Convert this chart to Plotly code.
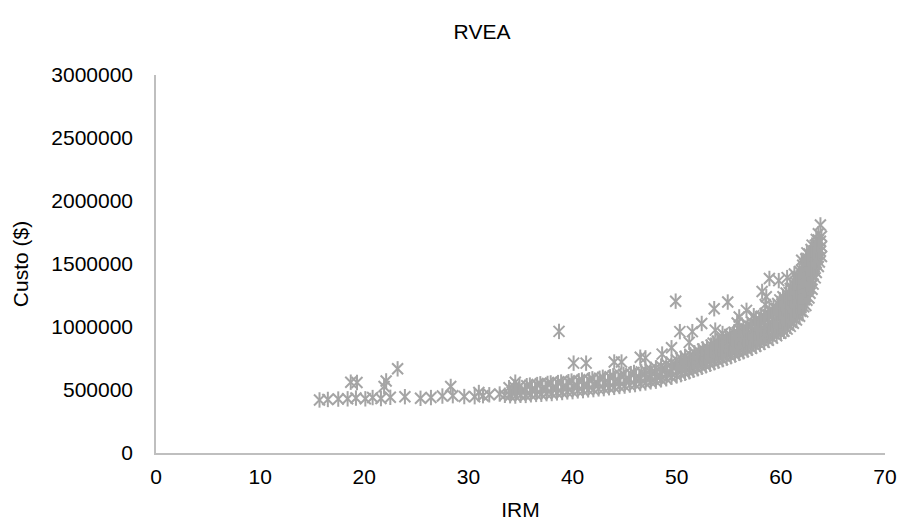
import plotly.graph_objects as go

# ---------------- data ----------------
# sparse points on the left / outliers above the main cloud
out_x = [15.7, 16.5, 17.5, 18.4, 19.2, 20.1, 20.8, 21.6, 22.5, 23.9, 25.4, 26.4, 27.5, 28.5,
         29.6, 30.6, 31.4, 32.0, 33.0, 33.5,
         18.7, 19.3, 21.9, 22.1, 23.2, 28.3, 34.5, 31.0,
         38.7, 40.1, 41.3, 44.0, 44.7, 46.5, 47.0, 48.6, 49.5, 50.3, 49.9, 51.5, 51.2, 52.4,
         53.6, 54.9, 53.7, 54.4, 56.0, 56.7, 55.8, 57.4, 58.2, 58.5, 58.6, 58.9, 59.8, 60.6,
         61.3, 62.0, 62.5, 63.0, 63.4, 63.8, 63.6]
out_y = [421000, 425000, 428000, 430000, 436000, 430000, 440000, 432000, 442000, 447000,
         434000, 440000, 452000, 455000, 448000, 447000, 455000, 462000, 468000, 458000,
         562000, 560000, 528000, 572000, 668000, 528000, 562000, 480000,
         965000, 713000, 713000, 722000, 722000, 760000, 755000, 785000, 835000, 963000,
         1205000, 963000, 878000, 1028000, 1145000, 1198000, 975000, 948000, 1080000,
         1132000, 1032000, 1090000, 1282000, 1178000, 1240000, 1385000, 1368000, 1392000,
         1420000, 1530000, 1588000, 1650000, 1695000, 1810000, 1740000]

# main cloud, IRM 34 - 49.5
band_a_x = [34.0, 34.2, 33.9, 34.5, 34.6, 34.4, 35.0, 35.1, 34.9, 35.5, 35.4, 35.6,
            36.0, 36.1, 35.9, 36.5, 36.4, 36.6, 37.0, 37.1, 36.9, 37.5, 37.4, 37.6,
            38.0, 38.1, 37.9, 38.5, 38.4, 38.6, 39.0, 39.1, 38.9, 39.5, 39.4, 39.6,
            40.0, 40.1, 39.9, 40.5, 40.4, 40.6, 41.0, 41.1, 40.9, 41.5, 41.4, 41.6,
            42.0, 42.1, 41.9, 42.5, 42.4, 42.6, 43.0, 43.1, 42.9, 43.5, 43.4, 43.6,
            44.0, 44.1, 43.9, 44.5, 44.4, 44.6, 45.0, 45.1, 44.9, 45.5, 45.4, 45.6,
            46.0, 46.1, 45.9, 46.5, 46.4, 46.6,
            47.0, 47.1, 46.9, 47.0, 47.5, 47.4, 47.6, 47.5, 48.0, 48.1, 47.9, 48.0,
            48.5, 48.4, 48.6, 48.5, 49.0, 49.1, 48.9, 49.0, 49.5, 49.4, 49.6, 49.5]
band_a_y = [455000, 484000, 518000, 452000, 490000, 524000, 458000, 493000, 529000,
            457000, 498000, 534000, 462000, 501000, 539000, 465000, 506000, 543000,
            466000, 509000, 549000, 471000, 512000, 552000, 472000, 516000, 556000,
            477000, 519000, 559000, 480000, 521000, 563000, 485000, 526000, 566000,
            487000, 531000, 571000, 493000, 534000, 573000, 495000, 538000, 579000,
            501000, 542000, 582000, 503000, 547000, 589000, 509000, 551000, 593000,
            511000, 557000, 601000, 518000, 561000, 605000, 521000, 566000, 613000,
            528000, 572000, 617000, 531000, 579000, 625000, 539000, 584000, 630000,
            543000, 590000, 639000, 551000, 597000, 644000,
            556000, 590000, 622000, 655000, 565000, 598000, 632000, 664000,
            570000, 605000, 641000, 676000, 581000, 617000, 652000, 689000,
            589000, 628000, 666000, 706000, 601000, 640000, 681000, 719000]

# main cloud, IRM 50 - 59.6
band_b_x = [50.0, 50.1, 49.9, 50.0, 50.4, 50.5, 50.3, 50.4, 50.8, 50.9, 50.7, 50.8,
            51.2, 51.3, 51.1, 51.2, 51.3, 51.6, 51.7, 51.5, 51.6, 51.7,
            52.0, 52.1, 51.9, 52.0, 52.1, 52.4, 52.5, 52.3, 52.4, 52.5,
            52.8, 52.9, 52.7, 52.8, 52.9, 53.2, 53.3, 53.1, 53.2, 53.3,
            53.6, 53.7, 53.5, 53.6, 53.7, 53.5, 54.0, 54.1, 53.9, 54.0, 54.1, 53.9,
            54.4, 54.5, 54.3, 54.4, 54.5, 54.3, 54.8, 54.9, 54.7, 54.8, 54.9, 54.7,
            55.2, 55.3, 55.1, 55.2, 55.3, 55.1, 55.6, 55.7, 55.5, 55.6, 55.7, 55.5,
            56.0, 56.1, 55.9, 56.0, 56.1, 55.9, 56.0, 56.4, 56.5, 56.3, 56.4, 56.5, 56.3, 56.4,
            56.8, 56.9, 56.7, 56.8, 56.9, 56.7, 56.8, 57.2, 57.3, 57.1, 57.2, 57.3, 57.1, 57.2,
            57.6, 57.7, 57.5, 57.6, 57.7, 57.5, 57.6,
            58.0, 58.1, 57.9, 58.0, 58.1, 57.9, 58.0, 58.1, 58.4, 58.5, 58.3, 58.4, 58.5, 58.3, 58.4, 58.5,
            58.8, 58.9, 58.7, 58.8, 58.9, 58.7, 58.8, 58.9, 59.2, 59.3, 59.1, 59.2, 59.3, 59.1, 59.2, 59.3,
            59.6, 59.7, 59.5, 59.6, 59.7, 59.5, 59.6, 59.7]
band_b_y = [612000, 654000, 697000, 738000, 622000, 666000, 708000, 752000,
            633000, 677000, 723000, 766000,
            645000, 679000, 713000, 746000, 780000, 657000, 691000, 727000, 760000, 795000,
            669000, 705000, 740000, 774000, 810000, 681000, 716000, 754000, 789000, 825000,
            693000, 731000, 766000, 802000, 840000, 705000, 742000, 781000, 818000, 856000,
            717000, 748000, 780000, 810000, 842000, 872000, 729000, 762000, 793000, 825000, 856000, 888000,
            741000, 773000, 808000, 839000, 873000, 905000, 753000, 788000, 820000, 855000, 888000, 922000,
            765000, 800000, 836000, 869000, 906000, 940000, 778000, 815000, 850000, 887000, 921000, 958000,
            791000, 821000, 854000, 884000, 916000, 945000, 977000,
            804000, 837000, 867000, 901000, 931000, 966000, 997000,
            818000, 850000, 885000, 917000, 952000, 984000, 1018000,
            832000, 868000, 900000, 937000, 970000, 1006000, 1040000,
            847000, 882000, 920000, 953000, 991000, 1025000, 1062000,
            862000, 895000, 925000, 959000, 988000, 1022000, 1052000, 1085000,
            878000, 910000, 945000, 975000, 1010000, 1041000, 1076000, 1108000,
            895000, 930000, 961000, 997000, 1029000, 1065000, 1097000, 1132000,
            912000, 946000, 983000, 1017000, 1054000, 1087000, 1124000, 1158000,
            930000, 968000, 1002000, 1041000, 1075000, 1114000, 1148000, 1186000]

# main cloud, IRM 60 - 64
band_c_x = [60.0, 60.1, 59.9, 60.0, 60.1, 59.9, 60.0, 60.1, 59.9,
            60.3, 60.4, 60.2, 60.3, 60.4, 60.2, 60.3, 60.4, 60.2,
            60.6, 60.7, 60.5, 60.6, 60.7, 60.5, 60.6, 60.7, 60.5,
            60.9, 61.0, 60.8, 60.9, 61.0, 60.8, 60.9, 61.0, 60.8, 60.9,
            61.2, 61.3, 61.1, 61.2, 61.3, 61.1, 61.2, 61.3, 61.1, 61.2,
            61.5, 61.6, 61.4, 61.5, 61.6, 61.4, 61.5, 61.6, 61.4, 61.5,
            61.8, 61.9, 61.7, 61.8, 61.9, 61.7, 61.8, 61.9, 61.7, 61.8,
            62.1, 62.2, 62.0, 62.1, 62.2, 62.0, 62.1, 62.2, 62.0, 62.1,
            62.4, 62.5, 62.3, 62.4, 62.5, 62.3, 62.4, 62.5, 62.3, 62.4,
            62.7, 62.8, 62.6, 62.7, 62.8, 62.6, 62.7, 62.8, 62.6, 62.7,
            63.0, 63.1, 62.9, 63.0, 63.1, 62.9, 63.0, 63.1, 62.9,
            63.3, 63.4, 63.2, 63.3, 63.4, 63.2, 63.3,
            63.6, 63.7, 63.5, 63.6, 63.7, 63.5, 63.6,
            63.9, 63.8, 63.9, 63.8, 63.9]
band_c_y = [950000, 984000, 1015000, 1050000, 1082000, 1117000, 1148000, 1183000, 1215000,
            966000, 1001000, 1033000, 1069000, 1102000, 1138000, 1170000, 1207000, 1240000,
            983000, 1020000, 1054000, 1092000, 1126000, 1163000, 1197000, 1235000, 1270000,
            1005000, 1037000, 1073000, 1104000, 1139000, 1171000, 1206000, 1237000, 1273000, 1305000,
            1030000, 1066000, 1099000, 1136000, 1169000, 1206000, 1239000, 1276000, 1309000, 1345000,
            1055000, 1091000, 1130000, 1165000, 1205000, 1240000, 1279000, 1314000, 1354000, 1390000,
            1085000, 1125000, 1163000, 1204000, 1242000, 1283000, 1321000, 1362000, 1400000, 1440000,
            1120000, 1160000, 1203000, 1242000, 1285000, 1325000, 1368000, 1407000, 1450000, 1490000,
            1170000, 1212000, 1251000, 1294000, 1333000, 1377000, 1416000, 1459000, 1498000, 1540000,
            1230000, 1268000, 1309000, 1346000, 1387000, 1423000, 1464000, 1501000, 1542000, 1580000,
            1300000, 1340000, 1378000, 1419000, 1457000, 1498000, 1535000, 1577000, 1615000,
            1390000, 1432000, 1478000, 1519000, 1564000, 1606000, 1650000,
            1480000, 1516000, 1549000, 1586000, 1619000, 1656000, 1690000,
            1560000, 1601000, 1639000, 1681000, 1720000]

x_ticks = [0, 10, 20, 30, 40, 50, 60, 70]
y_ticks = [0, 500000, 1000000, 1500000, 2000000, 2500000, 3000000]

# ---------------- figure ----------------
all_x = out_x + band_a_x + band_b_x + band_c_x
all_y = out_y + band_a_y + band_b_y + band_c_y

GRAY = "#A5A5A5"
FONT = "Liberation Sans, Arial, sans-serif"
FS = 21

fig = go.Figure()
# Excel-style asterisk = an "x" plus a vertical stroke
for sym in ["x-thin-open", "line-ns-open"]:
    fig.add_trace(go.Scatter(
        x=all_x, y=all_y, mode="markers", name="RVEA",
        marker=dict(symbol=sym, size=11, color=GRAY,
                    line=dict(color=GRAY, width=2)),
        hoverinfo="x+y", showlegend=False))

fig.update_layout(
    width=908, height=528,
    margin=dict(l=156, r=23, t=75, b=75),
    paper_bgcolor="white", plot_bgcolor="white",
    font=dict(family=FONT, size=FS, color="#000000"),
    title=dict(text="RVEA", x=482 / 908, xanchor="center", xref="container",
               y=1 - 32 / 528, yanchor="middle", yref="container",
               font=dict(family=FONT, size=FS, color="#000000")),
    showlegend=False,
)

fig.update_xaxes(
    range=[0, 70], tickvals=x_ticks, showgrid=False, zeroline=False,
    showline=True, linecolor="#BFBFBF", linewidth=1.5, ticks="",
    ticklabelstandoff=4, automargin=False,
    title=dict(text="IRM", standoff=15, font=dict(family=FONT, size=FS)),
)
fig.update_yaxes(
    range=[0, 3000000], tickvals=y_ticks, tickformat="d", showgrid=False,
    zeroline=False, showline=True, linecolor="#BFBFBF", linewidth=1.5, ticks="",
    ticklabelstandoff=17, automargin=False,
    title=dict(text="Custo ($)", standoff=17, font=dict(family=FONT, size=FS)),
)

fig.write_html("out.html")
